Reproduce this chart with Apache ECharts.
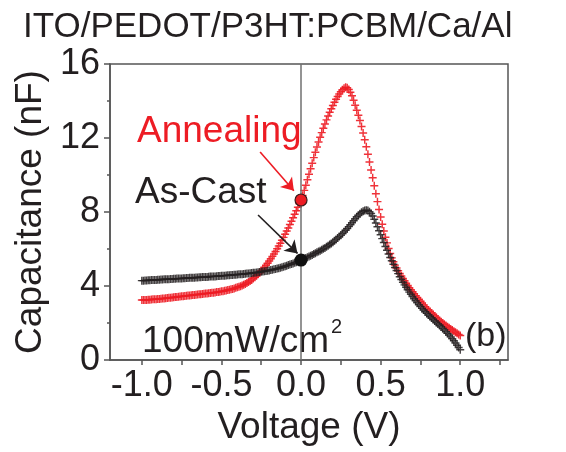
<!DOCTYPE html>
<html><head><meta charset="utf-8">
<script src="https://cdn.jsdelivr.net/npm/echarts@6/dist/echarts.min.js"></script>
<style>html,body{margin:0;padding:0;background:#fff}#c{width:566px;height:452px}</style>
</head><body><div id="c"></div>
<script>
// Bias sweep: -1.00 V to 1.00 V, 0.01 V step
const voltageStart = -1.00;
const voltageStep = 0.01;
// Capacitance (nF), As-Cast device
const asCastC = [
4.29,4.29,4.30,4.30,4.31,4.31,4.32,4.32,4.33,4.33,
4.34,4.34,4.35,4.35,4.36,4.36,4.37,4.37,4.38,4.38,
4.39,4.39,4.40,4.40,4.41,4.41,4.42,4.42,4.43,4.43,
4.44,4.44,4.45,4.45,4.46,4.46,4.47,4.47,4.48,4.48,
4.49,
4.49,4.50,4.51,4.51,4.52,4.52,4.53,4.54,4.54,4.55,
4.56,4.56,4.57,4.58,4.58,4.59,4.60,4.61,4.61,4.62,
4.63,4.64,4.64,4.65,4.66,4.67,4.68,4.69,4.70,4.71,
4.72,4.73,4.74,4.76,4.77,4.78,4.80,4.81,4.83,4.84,
4.86,4.88,4.90,4.92,4.94,4.96,4.99,5.01,5.04,5.07,
5.10,5.13,5.16,5.19,5.22,5.26,5.29,5.32,5.36,
5.40,5.44,5.48,5.52,5.56,5.60,5.64,5.68,5.73,5.77,
5.82,5.86,5.91,5.96,6.01,6.06,6.12,6.18,6.24,6.30,
6.37,6.44,6.52,6.59,6.67,6.75,6.83,6.92,7.01,7.11,
7.21,7.31,7.42,7.53,7.64,7.74,7.83,7.91,7.98,8.04,
8.08,8.10,8.08,8.02,7.92,7.78,7.61,7.41,7.20,6.99,
6.77,6.56,6.35,6.14,5.93,5.73,5.54,5.36,5.18,5.00,
4.84,4.67,4.50,4.35,4.20,4.06,3.93,3.80,3.67,3.55,
3.43,3.31,3.20,3.09,2.99,2.89,2.79,2.70,2.61,2.52,
2.43,2.35,2.27,2.19,2.11,2.03,1.95,1.87,1.79,1.71,
1.62,1.53,1.44,1.35,1.25,1.15,1.04,0.92,0.80,0.68,0.55
];
// Capacitance (nF), Annealing device
const annealingC = [
3.24,3.24,3.25,3.25,3.26,3.26,3.27,3.28,3.28,3.29,
3.30,3.30,3.31,3.32,3.33,3.34,3.35,3.36,3.37,3.38,
3.39,3.40,3.41,3.42,3.43,3.44,3.45,3.46,3.47,3.48,
3.49,3.50,3.51,3.52,3.53,3.54,3.55,3.56,3.57,3.58,
3.59,3.60,3.61,3.62,3.63,3.64,3.65,3.67,3.68,3.69,
3.71,3.72,3.74,3.76,3.78,3.80,3.82,3.84,3.87,3.90,
3.93,3.96,3.99,4.03,4.07,4.11,4.16,4.21,4.27,4.33,
4.40,4.47,4.55,4.63,4.72,4.81,4.91,5.01,5.12,5.23,
5.35,5.47,5.60,5.73,5.87,6.01,6.16,6.31,6.47,6.63,
6.80,6.97,7.14,7.32,7.50,7.69,7.88,8.07,8.26,8.45,
8.65,8.90,9.17,9.45,9.74,10.04,10.34,10.64,10.94,11.23,
11.51,11.78,12.04,12.29,12.53,12.76,12.98,13.19,13.39,13.58,
13.76,13.93,14.09,14.24,14.38,14.50,14.61,14.69,14.74,14.72,
14.62,14.47,14.28,14.04,13.77,13.50,13.23,12.95,12.62,12.27,
11.91,11.53,11.12,10.70,10.27,9.85,9.42,8.99,8.56,8.14,
7.73,7.34,6.97,6.64,6.33,6.03,5.76,5.52,5.31,5.13,
4.97,4.82,4.68,4.54,4.41,4.28,4.15,4.03,3.91,3.80,
3.69,3.58,3.48,3.38,3.28,3.18,3.08,2.98,2.88,2.78,
2.70,2.62,2.54,2.46,2.38,2.30,2.22,2.14,2.07,2.00,
1.93,1.86,1.80,1.74,1.68,1.62,1.56,1.50,1.44,1.38,1.32
];
// Highlighted points at 0 V: [voltage, capacitance]
const annealingPoint = [0, 8.65];
const asCastPoint = [0, 5.4];
// Annotation arrows: [start, end] in [V, nF]
const annealingArrow = [[-0.257, 11.24], [-0.045, 9.15]];
const asCastArrow = [[-0.27, 7.84], [-0.022, 5.76]];
// Axis ticks
const xMajorTicks = [-1.0, -0.5, 0.0, 0.5, 1.0];
const xAllTicks = [-1.0, -0.75, -0.5, -0.25, 0.0, 0.25, 0.5, 0.75, 1.0, 1.25];
const yTicks = [0, 4, 8, 12, 16];

const toPairs = arr => arr.map((c, i) => [+(voltageStart + i * voltageStep).toFixed(2), c]);

const FONT = '"Liberation Sans", Arial, Helvetica, sans-serif';
const INK = '#231f20';
const RED = '#ed1c24';
const AXIS = '#555555';
const plus = 'path://M4.1,0H5.9V4.1H10V5.9H5.9V10H4.1V5.9H0V4.1H4.1Z';

const chart = echarts.init(document.getElementById('c'), null, {renderer: 'canvas'});
chart.setOption({
  animation: false,
  backgroundColor: '#ffffff',
  grid: {left: 110, top: 64, right: 58, bottom: 92, show: true, borderColor: AXIS, borderWidth: 1.5, backgroundColor: 'transparent'},
  xAxis: {
    type: 'value', min: -1.2, max: 1.3,
    splitLine: {show: false},
    axisLine: {show: true, onZero: false, lineStyle: {color: AXIS, width: 1.5}},
    axisTick: {show: true, inside: false, length: 5, customValues: xAllTicks, lineStyle: {color: AXIS, width: 1.5}},
    axisLabel: {customValues: xMajorTicks, fontFamily: FONT, fontSize: 36, color: INK, margin: 8,
      formatter: v => v.toFixed(1)},
    name: 'Voltage (V)', nameLocation: 'middle', nameGap: 46,
    nameTextStyle: {fontFamily: FONT, fontSize: 37, color: INK}
  },
  yAxis: {
    type: 'value', min: 0, max: 16, interval: 4,
    splitLine: {show: false},
    axisLine: {show: true, onZero: false, lineStyle: {color: AXIS, width: 1.5}},
    axisTick: {show: true, inside: false, length: 6, lineStyle: {color: AXIS, width: 1.5}},
    minorTick: {show: true, splitNumber: 2, length: 3, lineStyle: {color: AXIS, width: 1.5}},
    axisLabel: {fontFamily: FONT, fontSize: 36, color: INK, margin: 10,
      customValues: yTicks},
    name: 'Capacitance (nF)', nameLocation: 'middle', nameGap: 60,
    nameTextStyle: {fontFamily: FONT, fontSize: 37, color: INK}
  },
  series: [
    {
      type: 'line', data: [], z: 1, silent: true,
      markLine: {silent: true, symbol: ['none', 'none'], label: {show: false},
        lineStyle: {color: '#707070', width: 1.5, type: 'solid'},
        data: [{xAxis: 0}]}
    },
    {
      name: 'Annealing', type: 'scatter', data: toPairs(annealingC), z: 2,
      symbol: plus, symbolSize: 8, itemStyle: {color: RED, opacity: 0.9}
    },
    {
      name: 'As-Cast', type: 'scatter', data: toPairs(asCastC), z: 3,
      symbol: plus, symbolSize: 8, itemStyle: {color: INK, opacity: 0.85}
    },
    {
      type: 'scatter', z: 5, data: [annealingPoint], symbol: 'circle', symbolSize: 12,
      itemStyle: {color: RED, borderColor: '#3a1a1a', borderWidth: 1.2, opacity: 1},
      markLine: {silent: true, symbol: ['none', 'arrow'], symbolSize: 12, label: {show: false},
        lineStyle: {color: RED, width: 1.6, type: 'solid'},
        data: [[{coord: annealingArrow[0]}, {coord: annealingArrow[1]}]]}
    },
    {
      type: 'scatter', z: 5, data: [asCastPoint], symbol: 'circle', symbolSize: 13,
      itemStyle: {color: '#111111', opacity: 1},
      markLine: {silent: true, symbol: ['none', 'arrow'], symbolSize: 12, label: {show: false},
        lineStyle: {color: INK, width: 1.6, type: 'solid'},
        data: [[{coord: asCastArrow[0]}, {coord: asCastArrow[1]}]]}
    }
  ],
  graphic: [
    {type: 'text', x: 23, y: 10, style: {text: 'ITO/PEDOT/P3HT:PCBM/Ca/Al', font: '35px ' + FONT, fill: INK}},
    {type: 'text', x: 137, y: 113, style: {text: 'Annealing', font: '37px ' + FONT, fill: RED}},
    {type: 'text', x: 135, y: 174, style: {text: 'As-Cast', font: '37px ' + FONT, fill: INK}},
    {type: 'text', x: 142, y: 323, style: {text: '100mW/cm', font: '37px ' + FONT, fill: INK}},
    {type: 'text', x: 331, y: 317, style: {text: '2', font: '20px ' + FONT, fill: INK}},
    {type: 'text', x: 465, y: 320, style: {text: '(b)', font: '34px ' + FONT, fill: INK}}
  ]
});
</script>
</body></html>
